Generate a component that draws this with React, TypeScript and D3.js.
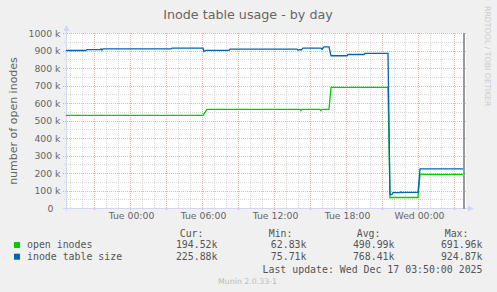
import React from 'react';
import * as d3 from 'd3';

const W = 497;
const H = 292;
const parse = d3.utcParse('%Y-%m-%d %H:%M');

const chartTitle = 'Inode table usage - by day';
const yAxisTitle = 'number of open inodes';
const sideText = 'RRDTOOL / TOBI OETIKER';
const versionText = 'Munin 2.0.33-1';
const lastUpdate = 'Last update: Wed Dec 17 03:50:00 2025';

const timeStart = '2025-12-15 18:40';
const timeEnd = '2025-12-17 04:00';
const nowTime = '2025-12-17 03:50';

const openInodesTimes = [
  '2025-12-15 18:40', '2025-12-16 06:05', '2025-12-16 06:25', '2025-12-16 14:10',
  '2025-12-16 14:15', '2025-12-16 14:20', '2025-12-16 15:50', '2025-12-16 15:55',
  '2025-12-16 16:00', '2025-12-16 16:35', '2025-12-16 16:45', '2025-12-16 21:30',
  '2025-12-16 21:40', '2025-12-17 00:00', '2025-12-17 00:10', '2025-12-17 03:50',
];
const openInodesValues = [
  532000, 532000, 566000, 566000,
  559000, 566000, 566000, 559000,
  566000, 566000, 692000, 692000,
  63000, 63000, 195000, 195000,
];

const tableSizeTimes = [
  '2025-12-15 18:40', '2025-12-15 20:20', '2025-12-15 20:25', '2025-12-15 21:30',
  '2025-12-15 21:35', '2025-12-15 21:40', '2025-12-15 21:45', '2025-12-16 03:25',
  '2025-12-16 03:30', '2025-12-16 06:05', '2025-12-16 06:10', '2025-12-16 06:20',
  '2025-12-16 08:15', '2025-12-16 08:20', '2025-12-16 13:55', '2025-12-16 14:00',
  '2025-12-16 14:10', '2025-12-16 14:15', '2025-12-16 14:25', '2025-12-16 15:55',
  '2025-12-16 16:00', '2025-12-16 16:10', '2025-12-16 16:35', '2025-12-16 16:45',
  '2025-12-16 18:05', '2025-12-16 18:10', '2025-12-16 19:30', '2025-12-16 19:35',
  '2025-12-16 21:30', '2025-12-16 21:40', '2025-12-16 21:50', '2025-12-16 21:55',
  '2025-12-16 22:30', '2025-12-16 22:35', '2025-12-16 22:40', '2025-12-16 22:45',
  '2025-12-17 00:00', '2025-12-17 00:10', '2025-12-17 03:50',
];
const tableSizeValues = [
  903000, 903000, 908000, 908000,
  912000, 905000, 912000, 912000,
  917000, 917000, 897000, 904000,
  904000, 911000, 911000, 905000,
  909000, 905000, 916000, 916000,
  910000, 924000, 924000, 873000,
  873000, 880000, 880000, 886000,
  886000, 78000, 80000, 91000,
  91000, 95000, 90000, 92000,
  92000, 226000, 226000,
];

const yTicks = [0, 100000, 200000, 300000, 400000, 500000, 600000, 700000, 800000, 900000, 1000000];
const yTickLabels = ['0', '100 k', '200 k', '300 k', '400 k', '500 k', '600 k', '700 k', '800 k', '900 k', '1000 k'];
const xLabelTimes = ['2025-12-16 00:00', '2025-12-16 06:00', '2025-12-16 12:00', '2025-12-16 18:00', '2025-12-17 00:00'];
const xLabels = ['Tue 00:00', 'Tue 06:00', 'Tue 12:00', 'Tue 18:00', 'Wed 00:00'];

const legendNames = ['open inodes', 'inode table size'];
const legendColors = ['#00CC00', '#0066B3'];
const curValues = ['194.52k', '225.88k'];
const minValues = ['62.83k', '75.71k'];
const avgValues = ['490.99k', '768.41k'];
const maxValues = ['691.96k', '924.87k'];
const columnHeaders = ['Cur:', 'Min:', 'Avg:', 'Max:'];

const SANS = 'DejaVu Sans, sans-serif';
const MONO = 'DejaVu Sans Mono, monospace';

export default function App() {
  const left = 66;
  const right = 466;
  const top = 33;
  const bottom = 209;

  const x = d3.scaleUtc().domain([parse(timeStart)!, parse(timeEnd)!]).range([left, right]);
  const y = d3.scaleLinear().domain([0, 1000000]).range([208.5, 33.5]);

  const hours = d3.utcHour.range(parse(timeStart)!, parse(timeEnd)!).filter((d) => x(d) > left + 1);
  const minorY = d3.range(0, 1000001, 50000);

  const line = d3
    .line<[Date, number]>()
    .x((d) => x(d[0]))
    .y((d) => y(d[1]));

  const greenData: [Date, number][] = openInodesTimes.map((t, i) => [parse(t)!, openInodesValues[i]]);
  const blueData: [Date, number][] = tableSizeTimes.map((t, i) => [parse(t)!, tableSizeValues[i]]);

  const nowX = x(parse(nowTime)!);
  const axisColor = '#CFD6F8';
  const fontColor = '#666666';

  const colEnds = [217, 306, 394, 482];
  const rowsValues = [curValues, minValues, avgValues, maxValues];

  return (
    <svg width={W} height={H} style={{ position: 'absolute', left: 0, top: 0, display: 'block' }}>
      <rect x={0} y={0} width={W} height={H} fill="#F0F0F0" />
      <rect x={left} y={top} width={right - left} height={bottom - top} fill="#FFFFFF" />

      {/* minor vertical grid */}
      {hours.map((h, i) => {
        const px = Math.floor(x(h)) + 0.5;
        const major = h.getUTCHours() % 3 === 0;
        return major ? null : (
          <line key={'vg' + i} x1={px} x2={px} y1={top} y2={bottom} stroke="#8F8F8F" strokeOpacity={0.35} strokeDasharray="1,1" />
        );
      })}
      {/* minor horizontal grid */}
      {minorY.map((v, i) =>
        v % 100000 === 0 ? null : (
          <line key={'hg' + i} x1={left - 2} x2={right} y1={Math.floor(y(v)) + 0.5} y2={Math.floor(y(v)) + 0.5} stroke="#8F8F8F" strokeOpacity={0.35} strokeDasharray="1,1" />
        )
      )}
      {/* major vertical grid */}
      {hours.map((h, i) => {
        const px = Math.floor(x(h)) + 0.5;
        const major = h.getUTCHours() % 3 === 0;
        return major ? (
          <line key={'vm' + i} x1={px} x2={px} y1={top} y2={bottom + 2} stroke="#E05050" strokeOpacity={0.45} strokeDasharray="1,1" />
        ) : null;
      })}
      {/* major horizontal grid */}
      {yTicks.map((v, i) => (
        <line key={'hm' + i} x1={left - 3} x2={right} y1={Math.floor(y(v)) + 0.5} y2={Math.floor(y(v)) + 0.5} stroke="#E05050" strokeOpacity={0.45} strokeDasharray="1,1" />
      ))}

      {/* axes */}
      <line x1={left + 0.5} x2={left + 0.5} y1={bottom + 2} y2={29} stroke={axisColor} strokeWidth={1} />
      <polygon points={`${left - 2.5},31 ${left + 0.5},25 ${left + 3.5},31`} fill={axisColor} />
      <line x1={left - 3} x2={469} y1={208.5} y2={208.5} stroke={axisColor} strokeWidth={1} />
      <polygon points={`468,205.5 474,208.5 468,211.5`} fill={axisColor} />

      {/* series */}
      <path d={line(greenData)!} fill="none" stroke={legendColors[0]} strokeWidth={1.3} />
      <path d={line(blueData)!} fill="none" stroke={legendColors[1]} strokeWidth={1.3} />

      {/* now rule */}
      <line x1={nowX} x2={nowX} y1={top} y2={bottom} stroke="#999999" strokeWidth={2} />

      {/* y tick labels */}
      {yTicks.map((v, i) => (
        <text key={'yt' + i} x={v === 0 ? 53.5 : 60.5} y={y(v) + 3.4} textAnchor="end" fontFamily={SANS} fontSize={9.3} fill={fontColor}>
          {yTickLabels[i]}
        </text>
      ))}
      {/* x labels */}
      {xLabelTimes.map((t, i) => (
        <text key={'xt' + i} x={x(parse(t)!) + 1.5} y={219} textAnchor="middle" fontFamily={SANS} fontSize={9.3} fill={fontColor}>
          {xLabels[i]}
        </text>
      ))}

      {/* title */}
      <text x={248} y={18.5} textAnchor="middle" fontFamily={SANS} fontSize={12.7} fill={fontColor}>
        {chartTitle}
      </text>
      {/* y axis title */}
      <text transform={`translate(17,${(top + bottom) / 2}) rotate(-90)`} textAnchor="middle" fontFamily={SANS} fontSize={11} fill={fontColor}>
        {yAxisTitle}
      </text>
      {/* side text */}
      <text transform="translate(485,6) rotate(90)" textAnchor="start" fontFamily={SANS} fontSize={7.8} fill="#CCCCCC">
        {sideText}
      </text>

      {/* legend */}
      {columnHeaders.map((hdr, i) => (
        <text key={'hd' + i} x={colEnds[i] - 13.5} y={236.7} textAnchor="end" fontFamily={MONO} fontSize={9.9} fill="#555555">
          {hdr}
        </text>
      ))}
      {legendNames.map((name, r) => (
        <g key={'lg' + r}>
          <rect x={14} y={242 + r * 11.7} width={6} height={6} fill={legendColors[r]} />
          <text x={27} y={248.4 + r * 11.7} fontFamily={MONO} fontSize={9.9} fill="#555555">
            {name}
          </text>
          {rowsValues.map((col, c) => (
            <text key={'v' + c} x={colEnds[c] + 0.5} y={248.4 + r * 11.7} textAnchor="end" fontFamily={MONO} fontSize={9.9} fill="#555555">
              {col[r]}
            </text>
          ))}
        </g>
      ))}
      <text x={482.5} y={273.4} textAnchor="end" fontFamily={MONO} fontSize={9.9} fill="#555555">
        {lastUpdate}
      </text>
      <text x={247.5} y={283.5} textAnchor="middle" fontFamily={SANS} fontSize={7.8} fill="#BBBBBB">
        {versionText}
      </text>
    </svg>
  );
}
